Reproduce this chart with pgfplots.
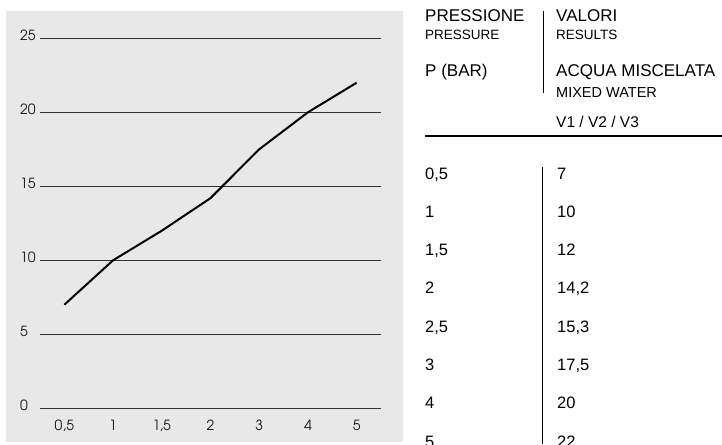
\documentclass[border=0pt]{standalone}
\usepackage{fontspec}
\setmainfont{Liberation Sans}
\newfontfamily\adv{TeX Gyre Adventor}
\usepackage{pgfplots}
\pgfplotsset{compat=1.18}
\definecolor{panel}{HTML}{E8E8E8}
\definecolor{gridc}{HTML}{333333}
\newcommand\bigf{\fontsize{17}{19}\selectfont}
\newcommand\rowf{\fontsize{16.5}{19}\selectfont}
\newcommand\smallf{\fontsize{13.5}{16}\selectfont}
\newcommand\mwf{\fontsize{14.5}{17}\selectfont}
\newcommand\midf{\fontsize{15.5}{18}\selectfont}
\begin{document}
\begin{tikzpicture}
\useasboundingbox (0,0) rectangle (722pt,-444pt);
\clip (0,0) rectangle (722pt,-444pt);
\fill[panel] (6pt,-11pt) rectangle (403pt,-442pt);
\begin{axis}[at={(40pt,-408.3pt)}, anchor=south west, scale only axis,
  width=341pt, height=370pt, xmin=-0.5, xmax=6.5, ymin=0, ymax=25,
  axis line style={draw=none}, major tick length=0pt,
  xtick={0,...,6}, xticklabels={{0,5},1,{1,5},2,3,4,5},
  ytick={0,5,...,25}, ymajorgrids, grid style={gridc, line width=0.8pt},
  /pgf/number format/assume math mode=true,
  tick label style={font=\adv\fontsize{14}{16}\selectfont, text=black!90},
  yticklabel style={anchor=west, inner xsep=0pt, xshift=-20pt, yshift=2.5pt},
  xticklabel style={yshift=-8.5pt},
  clip=false]
\addplot[black, line width=2pt, line join=round] coordinates {(0,7)(1,10)(2,12)(3,14.2)(4,17.5)(5,20)(6,22)};
\end{axis}
\begin{scope}[every node/.style={anchor=base west, inner sep=0pt}]
\node[font=\bigf] at (425pt,-21.5pt) {PRESSIONE};
\node[font=\smallf] at (425pt,-39.3pt) {PRESSURE};
\node[font=\bigf] at (425pt,-77pt) {P (BAR)};
\node[font=\bigf] at (556pt,-21.5pt) {VALORI};
\node[font=\smallf] at (556pt,-39.3pt) {RESULTS};
\node[font=\bigf] at (556pt,-77pt) {ACQUA MISCELATA};
\node[font=\mwf] at (556pt,-97pt) {MIXED WATER};
\node[font=\midf] at (556pt,-127pt) {V1 / V2 / V3};
\node[font=\rowf] at (425pt,-179pt) {0,5};
\node[font=\rowf] at (557pt,-179pt) {7};
\node[font=\rowf] at (425pt,-217.3pt) {1};
\node[font=\rowf] at (557pt,-217.3pt) {10};
\node[font=\rowf] at (425pt,-255.6pt) {1,5};
\node[font=\rowf] at (557pt,-255.6pt) {12};
\node[font=\rowf] at (425pt,-293.9pt) {2};
\node[font=\rowf] at (557pt,-293.9pt) {14,2};
\node[font=\rowf] at (425pt,-332.2pt) {2,5};
\node[font=\rowf] at (557pt,-332.2pt) {15,3};
\node[font=\rowf] at (425pt,-370.5pt) {3};
\node[font=\rowf] at (557pt,-370.5pt) {17,5};
\node[font=\rowf] at (425pt,-408.8pt) {4};
\node[font=\rowf] at (557pt,-408.8pt) {20};
\node[font=\rowf] at (425pt,-447.1pt) {5};
\node[font=\rowf] at (557pt,-447.1pt) {22};
\end{scope}
\draw[black, line width=0.9pt] (543.3pt,-11pt) -- (543.3pt,-93pt);
\draw[black, line width=1.2pt] (425pt,-136pt) -- (722pt,-136pt);
\draw[black, line width=0.9pt] (542.7pt,-166.7pt) -- (542.7pt,-444pt);
\end{tikzpicture}
\end{document}
